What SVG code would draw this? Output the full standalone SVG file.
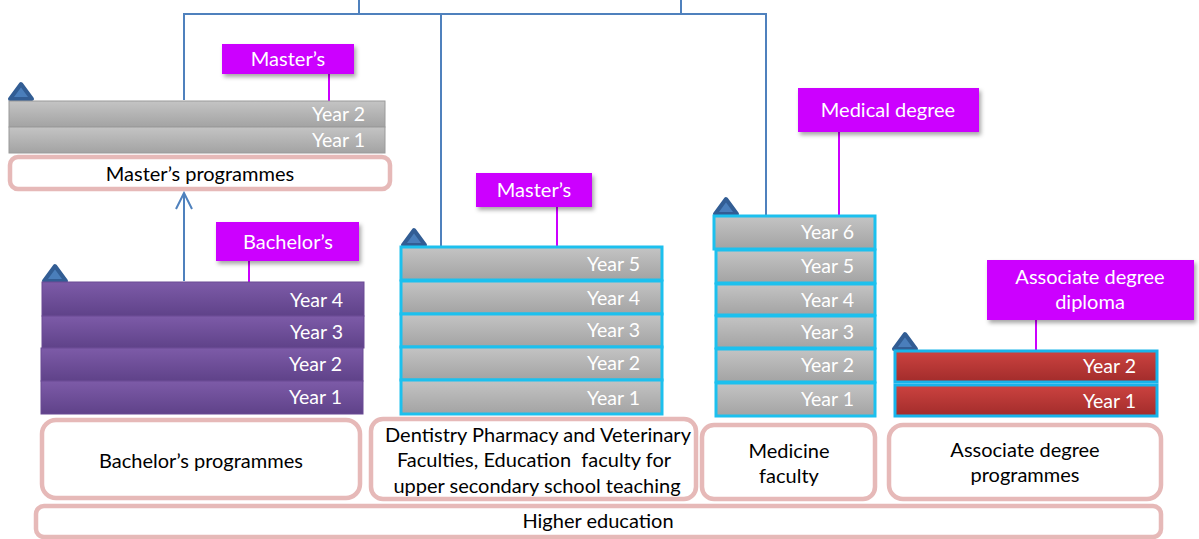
<svg xmlns="http://www.w3.org/2000/svg" width="1199" height="539" viewBox="0 0 1199 539">
<style>
text{font-family:Lato,"Liberation Sans",sans-serif}
.yr{fill:#fff;font-size:19.5px;text-anchor:end}
.lbl{fill:#fff;font-size:20px;text-anchor:middle}
.box{fill:#fff;stroke:#e6b9b8;stroke-width:4.5}
.bt{fill:#000;font-size:20px;text-anchor:middle}
.mag{fill:#cc00ff;filter:url(#sh)}
.ml{stroke:#cc00ff;stroke-width:2;fill:none}
.bl{stroke:#4f81bd;stroke-width:2;fill:none}
.gray{fill:url(#gG);stroke:#9a9a9a;stroke-width:1}
.grayc{fill:url(#gG);stroke:#1cc0ee;stroke-width:3}
.pur{fill:url(#gP);stroke:#6a4a94;stroke-width:1}
.red{fill:url(#gR);stroke:#18b4ea;stroke-width:3}
.tri{fill:#4a7ebb;stroke:#325d94;stroke-width:4;stroke-linejoin:round}
</style>
<defs>
<linearGradient id="gG" x1="0" y1="0" x2="0" y2="1"><stop offset="0" stop-color="#c4c4c4"/><stop offset="1" stop-color="#a3a3a3"/></linearGradient>
<linearGradient id="gP" x1="0" y1="0" x2="0" y2="1"><stop offset="0" stop-color="#7d5ba8"/><stop offset="1" stop-color="#5f4289"/></linearGradient>
<linearGradient id="gR" x1="0" y1="0" x2="0" y2="1"><stop offset="0" stop-color="#cc4340"/><stop offset="1" stop-color="#a22c2b"/></linearGradient>
<filter id="sh" x="-10%" y="-20%" width="130%" height="160%"><feDropShadow dx="2" dy="3" stdDeviation="2" flood-color="#000" flood-opacity="0.35"/></filter>
<marker id="arr" viewBox="0 0 20 20" refX="18" refY="10" markerWidth="20" markerHeight="20" markerUnits="userSpaceOnUse" orient="auto">
<path d="M2,2 L18,10 L2,18" fill="none" stroke="#4f81bd" stroke-width="2"/>
</marker>
</defs>

<g id="connectors">
<path class="bl" d="M184,100 V14 H766 V215"/>
<path class="bl" d="M359,0 V14"/>
<path class="bl" d="M681,0 V14"/>
<path class="bl" d="M441,14 V246"/>
<path class="bl" d="M184,281 V193" marker-end="url(#arr)"/>
<path class="ml" d="M329,74 V101"/>
<path class="ml" d="M249,261 V282"/>
<path class="ml" d="M557,207 V247"/>
<path class="ml" d="M839,132 V215"/>
<path class="ml" d="M1036,320 V350"/>
</g>

<g id="masters">
<path class="tri" d="M10,99 L21,84 L32,99 Z"/>
<rect class="gray" x="9" y="101" width="376" height="26"/>
<text class="yr" x="365" y="121">Year 2</text>
<rect class="gray" x="9" y="127" width="376" height="26"/>
<text class="yr" x="365" y="147">Year 1</text>
<rect class="mag" x="222" y="44" width="132" height="30"/>
<text class="lbl" x="288" y="66">Master’s</text>
<rect class="box" x="10" y="157" width="380" height="32" rx="8"/>
<text class="bt" x="200" y="181">Master’s programmes</text>
</g>

<g id="bachelors">
<path class="tri" d="M44,281 L55,266 L66,281 Z"/>
<rect class="pur" x="42" y="282" width="322" height="34"/>
<text class="yr" x="343" y="307">Year 4</text>
<rect class="pur" x="42" y="316" width="322" height="32"/>
<text class="yr" x="343" y="339">Year 3</text>
<rect class="pur" x="41" y="348" width="322" height="33"/>
<text class="yr" x="342" y="371">Year 2</text>
<rect class="pur" x="41" y="381" width="322" height="33"/>
<text class="yr" x="342" y="404">Year 1</text>
<rect class="mag" x="216" y="222" width="143" height="39"/>
<text class="lbl" x="288" y="249">Bachelor’s</text>
<rect class="box" x="42" y="420" width="318" height="78" rx="14"/>
<text class="bt" x="201" y="468">Bachelor’s programmes</text>
</g>

<g id="dentistry">
<path class="tri" d="M403,245 L414,230 L425,245 Z"/>
<rect class="grayc" x="401" y="247" width="261" height="33"/>
<text class="yr" x="640" y="271">Year 5</text>
<rect class="grayc" x="401" y="281" width="261" height="33"/>
<text class="yr" x="640" y="305">Year 4</text>
<rect class="grayc" x="401" y="314" width="261" height="33"/>
<text class="yr" x="640" y="337">Year 3</text>
<rect class="grayc" x="401" y="347" width="261" height="33"/>
<text class="yr" x="640" y="370">Year 2</text>
<rect class="grayc" x="401" y="380" width="261" height="34"/>
<text class="yr" x="640" y="405">Year 1</text>
<rect class="mag" x="476" y="173" width="116" height="34"/>
<text class="lbl" x="534" y="197">Master’s</text>
<rect class="box" x="371" y="419" width="325" height="80" rx="12"/>
<text class="bt" x="538" y="442">Dentistry Pharmacy and Veterinary</text>
<text class="bt" x="534" y="467" xml:space="preserve">Faculties, Education  faculty for</text>
<text class="bt" x="537" y="493">upper secondary school teaching</text>
</g>

<g id="medicine">
<path class="tri" d="M715,214 L726,199 L737,214 Z"/>
<rect class="grayc" x="714" y="216" width="161" height="33"/>
<text class="yr" x="854" y="239">Year 6</text>
<rect class="grayc" x="716" y="250" width="159" height="33"/>
<text class="yr" x="854" y="273">Year 5</text>
<rect class="grayc" x="716" y="284" width="159" height="31"/>
<text class="yr" x="854" y="307">Year 4</text>
<rect class="grayc" x="716" y="316" width="159" height="32"/>
<text class="yr" x="854" y="339">Year 3</text>
<rect class="grayc" x="716" y="349" width="159" height="33"/>
<text class="yr" x="854" y="372">Year 2</text>
<rect class="grayc" x="716" y="383" width="159" height="33"/>
<text class="yr" x="854" y="406">Year 1</text>
<rect class="mag" x="798" y="88" width="181" height="44"/>
<text class="lbl" x="888" y="117">Medical degree</text>
<rect class="box" x="702" y="425" width="173" height="74" rx="12"/>
<text class="bt" x="789" y="458">Medicine</text>
<text class="bt" x="789" y="483">faculty</text>
</g>

<g id="associate">
<path class="tri" d="M894,349 L905,334 L916,349 Z"/>
<rect class="red" x="895" y="351" width="262" height="31"/>
<text class="yr" x="1136" y="373">Year 2</text>
<rect class="red" x="895" y="385" width="262" height="31"/>
<text class="yr" x="1136" y="408">Year 1</text>
<rect class="mag" x="987" y="260" width="207" height="60"/>
<text class="lbl" x="1090" y="284">Associate degree</text>
<text class="lbl" x="1090" y="309">diploma</text>
<rect class="box" x="889" y="425" width="272" height="74" rx="14"/>
<text class="bt" x="1025" y="457">Associate degree</text>
<text class="bt" x="1025" y="482">programmes</text>
</g>

<g id="higher">
<rect class="box" x="36" y="506" width="1125" height="31" rx="8"/>
<text class="bt" x="598" y="528">Higher education</text>
</g>
</svg>
